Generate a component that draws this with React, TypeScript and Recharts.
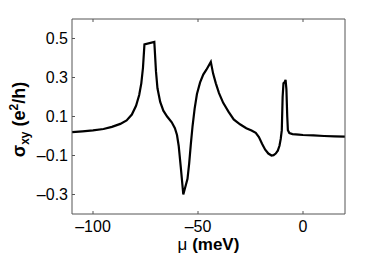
import { LineChart, Line, XAxis, YAxis } from 'recharts'

// chemical potential (meV)
const MU = [
  -110, -105, -100, -95, -91, -87, -84, -81.5, -79.5, -78, -77, -76.2, -75.5,
  -70.8, -70, -69.3, -68, -66.5, -64.7, -62.5, -61, -60, -59.2, -58.2, -57,
  -55.5, -55, -54.2, -53.4, -52.6, -51.6, -50.5, -49, -47.5, -46, -43.9,
  -42.8, -41.5, -40, -38, -35.5, -33, -30, -27, -24.5, -22.5, -21, -19.5,
  -18, -16.5, -15, -14, -13, -12, -11.2, -10.6, -10.1, -9.7, -9.3, -8.8,
  -8.3, -7.9, -7.5, -7.2, -6.5, -5, -2, 0, 5, 10, 15, 20,
]

// sigma_xy (e^2/h)
const SIGMA = [
  0.02, 0.024, 0.029, 0.036, 0.047, 0.062, 0.08, 0.11, 0.155, 0.21, 0.27, 0.35, 0.47,
  0.483, 0.33, 0.245, 0.175, 0.13, 0.1, 0.07, 0.04, 0.005, -0.05, -0.16, -0.3,
  -0.24, -0.22, -0.14, -0.04, 0.05, 0.14, 0.215, 0.275, 0.315, 0.34, 0.38,
  0.32, 0.27, 0.22, 0.17, 0.125, 0.085, 0.06, 0.04, 0.028, 0.016, -0.005, -0.04,
  -0.07, -0.09, -0.1, -0.098, -0.09, -0.075, -0.05, -0.015, 0.03, 0.2, 0.27, 0.275,
  0.288, 0.24, 0.1, 0.03, 0.015, 0.01, 0.007, 0.005, 0.003, 0, -0.002, -0.003,
]

const X_TICKS = [-100, -50, 0]
const Y_TICKS = [-0.3, -0.1, 0.1, 0.3, 0.5]

const data = MU.map((mu, i) => ({ mu, s: SIGMA[i] }))

const FONT = '"Liberation Sans", Arial, sans-serif'
const AXIS = '#555'
const minus = (s: string) => s.replace('-', '\u2013')

function XLabel(props: any) {
  const { viewBox } = props
  const cx = viewBox.x + viewBox.width / 2
  return (
    <text x={cx} y={viewBox.y + 36} textAnchor="middle" fontSize={17} fontFamily={FONT} fill="#000">
      <tspan>μ</tspan>
      <tspan fontWeight="bold"> (meV)</tspan>
    </text>
  )
}

function YLabel(props: any) {
  const { viewBox } = props
  const cy = viewBox.y + viewBox.height / 2 + 3
  const x = 25
  return (
    <text
      x={x}
      y={cy}
      transform={`rotate(-90 ${x} ${cy})`}
      textAnchor="middle"
      fontSize={18}
      fontWeight="bold"
      fontFamily={FONT}
      fill="#000"
    >
      <tspan>σ</tspan>
      <tspan dy={4} fontSize={12}>xy</tspan>
      <tspan dy={-4}> (e</tspan>
      <tspan dy={-7} fontSize={12}>2</tspan>
      <tspan dy={7}>/h)</tspan>
    </text>
  )
}

export default function App() {
  const tickStyle = { fontSize: 16, fontFamily: FONT, fill: '#000' }
  return (
    <div style={{ position: 'absolute', left: 0, top: 0, background: '#fff' }}>
      <LineChart width={382} height={253} data={data} margin={{ top: 18, right: 36, bottom: 0, left: 0 }}>
        <XAxis
          dataKey="mu"
          type="number"
          domain={[-110, 20]}
          ticks={X_TICKS}
          allowDataOverflow
          height={39}
          tickSize={-3}
          tickMargin={10}
          stroke={AXIS}
          tick={tickStyle}
          tickFormatter={(v: number) => minus(String(v))}
          label={<XLabel />}
        />
        <XAxis
          xAxisId="top"
          orientation="top"
          dataKey="mu"
          type="number"
          domain={[-110, 20]}
          ticks={X_TICKS}
          height={1}
          tickSize={-3}
          stroke={AXIS}
          tick={{ fill: 'none' }}
          tickFormatter={() => ''}
        />
        <YAxis
          type="number"
          domain={[-0.4, 0.6]}
          ticks={Y_TICKS}
          allowDataOverflow
          width={72}
          tickSize={-3}
          tickMargin={7}
          stroke={AXIS}
          tick={tickStyle}
          tickFormatter={(v: number) => minus(v.toFixed(1))}
          label={<YLabel />}
        />
        <YAxis
          yAxisId="right"
          orientation="right"
          type="number"
          domain={[-0.4, 0.6]}
          ticks={Y_TICKS}
          width={1}
          tickSize={-3}
          stroke={AXIS}
          tick={{ fill: 'none' }}
          tickFormatter={() => ''}
        />
        <Line
          type="linear"
          dataKey="s"
          stroke="#000"
          strokeWidth={2.2}
          dot={false}
          isAnimationActive={false}
        />
      </LineChart>
    </div>
  )
}
